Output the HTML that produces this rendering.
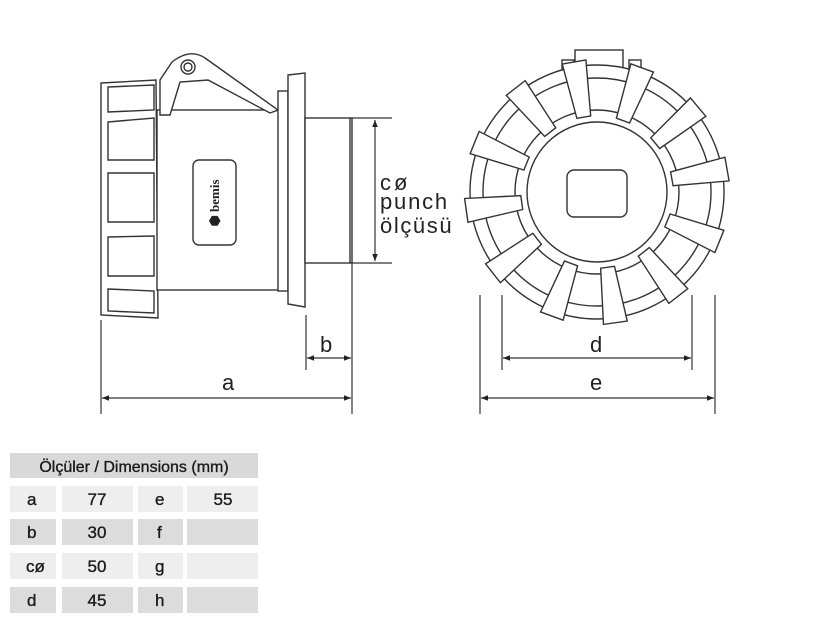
<!DOCTYPE html>
<html><head><meta charset="utf-8"><style>
html,body{margin:0;padding:0;background:#fff;width:825px;height:625px;overflow:hidden;font-family:"Liberation Sans",sans-serif}
</style></head><body>
<svg width="825" height="625" viewBox="0 0 825 625" xmlns="http://www.w3.org/2000/svg">
<defs>
<marker id="ar" viewBox="0 0 10 10" refX="10" refY="5" markerWidth="9" markerHeight="7" orient="auto-start-reverse" markerUnits="userSpaceOnUse"><path d="M0,1 L10,5 L0,9 z" fill="#222"/></marker>
</defs>
<g fill="#fff" stroke="#333" stroke-width="1.4">
<path d="M101,83 L156,80 L158,318 L101,315 Z"/>
<path d="M108,87 L154,85 L154,110 L108,112 Z M108,122 L154,118 L154,160 L108,160 Z M108,173 L154,173 L154,222 L108,222 Z M108,237 L154,236 L154,276 L108,276 Z M108,289 L154,291 L154,313 L108,311 Z"/>
<rect x="157" y="110" width="122" height="180"/>
<path d="M160,80 L172,62 Q190,48 205,58 L278,110 L270,113 L208,80 L180,82 L170,115 L160,115 Z"/>
<circle cx="188" cy="67" r="7"/><circle cx="188" cy="67" r="4"/>
<rect x="278" y="91" width="10" height="200"/>
<path d="M288,75 L305,73 L305,307 L288,304 Z"/>
<rect x="305" y="118" width="47" height="145"/>
<line x1="350" y1="118" x2="350" y2="263"/>
<rect x="193" y="160" width="43" height="85" rx="6"/>
</g>
<text x="0" y="0" transform="translate(219,203) rotate(-90)" text-anchor="middle" font-family="Liberation Serif,serif" font-size="13" font-weight="bold" fill="#222">⬢ bemis</text>
<g stroke="#333" stroke-width="1.2" fill="none">
<line x1="352" y1="118" x2="392" y2="118"/><line x1="352" y1="263" x2="392" y2="263"/>
<line x1="375" y1="120" x2="375" y2="261" marker-start="url(#ar)" marker-end="url(#ar)"/>
<line x1="306" y1="315" x2="306" y2="370"/><line x1="352" y1="263" x2="352" y2="414"/>
<line x1="307" y1="358" x2="351" y2="358" marker-start="url(#ar)" marker-end="url(#ar)"/>
<line x1="101" y1="320" x2="101" y2="414"/>
<line x1="102" y1="398" x2="351" y2="398" marker-start="url(#ar)" marker-end="url(#ar)"/>
<line x1="480" y1="295" x2="480" y2="414"/><line x1="502" y1="295" x2="502" y2="370"/>
<line x1="692" y1="295" x2="692" y2="370"/><line x1="715" y1="295" x2="715" y2="414"/>
<line x1="503" y1="358" x2="691" y2="358" marker-start="url(#ar)" marker-end="url(#ar)"/>
<line x1="481" y1="398" x2="714" y2="398" marker-start="url(#ar)" marker-end="url(#ar)"/>
</g>
<g font-size="22" fill="#222" font-family="Liberation Sans,sans-serif">
<text x="380" y="190" letter-spacing="3">cø</text>
<text x="380" y="209" letter-spacing="1.8">punch</text>
<text x="380" y="233" letter-spacing="1.6">ölçüsü</text>
<text x="320" y="352">b</text>
<text x="222" y="390">a</text>
<text x="590" y="352">d</text>
<text x="590" y="390">e</text>
</g>
<g fill="#fff" stroke="#333" stroke-width="1.4">
<rect x="575" y="50" width="48" height="22"/>
<rect x="562" y="60" width="12" height="14"/><rect x="629" y="60" width="12" height="14"/>
<circle cx="597" cy="192" r="127"/>
<circle cx="597" cy="192" r="114"/>
<circle cx="597" cy="192" r="82"/>
<circle cx="597" cy="192" r="70"/>
</g>
<g fill="#fff" stroke="#333" stroke-width="1.4" transform="translate(597,192)">
<path transform="rotate(-10)" d="M-7,-76 L7,-76 L12,-132 L-12,-132 Z"/>
<path transform="rotate(20)" d="M-7,-76 L7,-76 L12,-132 L-12,-132 Z"/>
<path transform="rotate(50)" d="M-7,-76 L7,-76 L12,-132 L-12,-132 Z"/>
<path transform="rotate(80)" d="M-7,-76 L7,-76 L12,-132 L-12,-132 Z"/>
<path transform="rotate(112)" d="M-7,-76 L7,-76 L12,-132 L-12,-132 Z"/>
<path transform="rotate(142)" d="M-7,-76 L7,-76 L12,-132 L-12,-132 Z"/>
<path transform="rotate(172)" d="M-7,-76 L7,-76 L12,-132 L-12,-132 Z"/>
<path transform="rotate(200)" d="M-7,-76 L7,-76 L12,-132 L-12,-132 Z"/>
<path transform="rotate(232)" d="M-7,-76 L7,-76 L12,-132 L-12,-132 Z"/>
<path transform="rotate(262)" d="M-7,-76 L7,-76 L12,-132 L-12,-132 Z"/>
<path transform="rotate(292)" d="M-7,-76 L7,-76 L12,-132 L-12,-132 Z"/>
<path transform="rotate(322)" d="M-7,-76 L7,-76 L12,-132 L-12,-132 Z"/>
</g>
<rect x="567" y="170" width="60" height="47" rx="7" fill="#fff" stroke="#333" stroke-width="1.4"/>
<g>
<rect x="10" y="453" width="248" height="25" fill="#d9d9d9"/>
<rect x="10" y="486" width="46" height="26" fill="#eeeeee"/><rect x="62" y="486" width="71" height="26" fill="#eeeeee"/><rect x="138" y="486" width="45" height="26" fill="#eeeeee"/><rect x="187" y="486" width="71" height="26" fill="#eeeeee"/>
<rect x="10" y="519" width="46" height="26" fill="#dcdcdc"/><rect x="62" y="519" width="71" height="26" fill="#dcdcdc"/><rect x="138" y="519" width="45" height="26" fill="#dcdcdc"/><rect x="187" y="519" width="71" height="26" fill="#dcdcdc"/>
<rect x="10" y="553" width="46" height="26" fill="#eeeeee"/><rect x="62" y="553" width="71" height="26" fill="#eeeeee"/><rect x="138" y="553" width="45" height="26" fill="#eeeeee"/><rect x="187" y="553" width="71" height="26" fill="#eeeeee"/>
<rect x="10" y="587" width="46" height="26" fill="#dcdcdc"/><rect x="62" y="587" width="71" height="26" fill="#dcdcdc"/><rect x="138" y="587" width="45" height="26" fill="#dcdcdc"/><rect x="187" y="587" width="71" height="26" fill="#dcdcdc"/>
</g>
<g font-size="17" fill="#1a1a1a" font-family="Liberation Sans,sans-serif" stroke="#1a1a1a" stroke-width="0.35">
<text x="134" y="472" text-anchor="middle" font-size="16">Ölçüler / Dimensions (mm)</text>
<text x="27" y="505">a</text><text x="97" y="505" text-anchor="middle">77</text><text x="155" y="505">e</text><text x="223" y="505" text-anchor="middle">55</text>
<text x="27" y="538">b</text><text x="97" y="538" text-anchor="middle">30</text><text x="157" y="538">f</text>
<text x="26" y="572">cø</text><text x="97" y="572" text-anchor="middle">50</text><text x="155" y="572">g</text>
<text x="27" y="606">d</text><text x="97" y="606" text-anchor="middle">45</text><text x="155" y="606">h</text>
</g>
</svg>
</body></html>
